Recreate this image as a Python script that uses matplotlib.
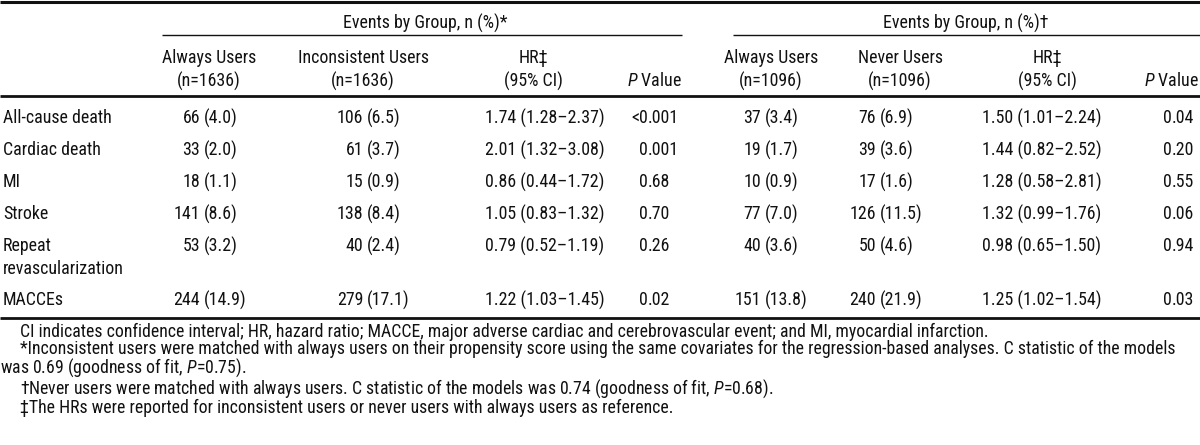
import matplotlib
matplotlib.use("Agg")
import matplotlib.pyplot as plt
from matplotlib import font_manager

# table rows
outcomes = ["All-cause death", "Cardiac death", "MI", "Stroke",
            "Repeat\nrevascularization", "MACCEs"]

# always users vs inconsistent users
always1_n = [66, 33, 18, 141, 53, 244]
always1_pct = [4.0, 2.0, 1.1, 8.6, 3.2, 14.9]
incons_n = [106, 61, 15, 138, 40, 279]
incons_pct = [6.5, 3.7, 0.9, 8.4, 2.4, 17.1]
hr1 = [1.74, 2.01, 0.86, 1.05, 0.79, 1.22]
hr1_lo = [1.28, 1.32, 0.44, 0.83, 0.52, 1.03]
hr1_hi = [2.37, 3.08, 1.72, 1.32, 1.19, 1.45]
p1 = ["<0.001", "0.001", "0.68", "0.70", "0.26", "0.02"]

# always users vs never users
always2_n = [37, 19, 10, 77, 40, 151]
always2_pct = [3.4, 1.7, 0.9, 7.0, 3.6, 13.8]
never_n = [76, 39, 17, 126, 50, 240]
never_pct = [6.9, 3.6, 1.6, 11.5, 4.6, 21.9]
hr2 = [1.50, 1.44, 1.28, 1.32, 0.98, 1.25]
hr2_lo = [1.01, 0.82, 0.58, 0.99, 0.65, 1.02]
hr2_hi = [2.24, 2.52, 2.81, 1.76, 1.50, 1.54]
p2 = ["0.04", "0.20", "0.55", "0.06", "0.94", "0.03"]

spanners = ["Events by Group, n (%)*", "Events by Group, n (%)\u2020"]
col_heads = [("Always Users", "(n=1636)"), ("Inconsistent Users", "(n=1636)"),
             ("HR\u2021", "(95% CI)"), ("", "$P$ Value"),
             ("Always Users", "(n=1096)"), ("Never Users", "(n=1096)"),
             ("HR\u2021", "(95% CI)"), ("", "$P$ Value")]

footnotes = [
    "CI indicates confidence interval; HR, hazard ratio; MACCE, major adverse cardiac and "
    "cerebrovascular event; and MI, myocardial infarction.",
    "*Inconsistent users were matched with always users on their propensity score using the same "
    "covariates for the regression-based analyses. C statistic of the models",
    "was 0.69 (goodness of fit, $P$=0.75).",
    "\u2020Never users were matched with always users. C statistic of the models was 0.74 "
    "(goodness of fit, $P$=0.68).",
    "\u2021The HRs were reported for inconsistent users or never users with always users as reference.",
]

# condensed grotesque, like the journal face
names = {f.name for f in font_manager.fontManager.ttflist}
family = "Liberation Sans"
for cand in ["Roboto Condensed", "Archivo Narrow", "Liberation Sans Narrow",
             "PT Sans Narrow", "Fira Sans Condensed", "IBM Plex Sans Condensed"]:
    if cand in names:
        family = cand
        break
plt.rcParams["font.family"] = [family, "DejaVu Sans"]
plt.rcParams["mathtext.fontset"] = "custom"
plt.rcParams["mathtext.rm"] = family
plt.rcParams["mathtext.it"] = family + ":italic"

ink = "#111111"
W, H = 1200, 445
fig = plt.figure(figsize=(W / 100, H / 100), dpi=100)
ax = fig.add_axes([0, 0, 1, 1])
ax.set_xlim(0, W)
ax.set_ylim(H, 0)
ax.axis("off")
renderer = fig.canvas.get_renderer()


def fit_size(s, target_px, start=12):
    t = ax.text(0, 0, s, fontsize=start)
    w = t.get_window_extent(renderer).width
    t.remove()
    return start * target_px / w


fs = fit_size("Inconsistent Users", 131)
fs_note = fit_size(footnotes[1], 1150)
px = fs * 100 / 72


def put(x, y, s, ha="left", note=False):
    size = fs_note if note else fs
    off = 0.36 * size * 100 / 72
    ax.text(x, y + off, s, ha=ha, va="baseline", fontsize=size, color=ink)


# rules
ax.plot([0, W], [1.5, 1.5], color=ink, lw=2.2, solid_capstyle="butt")
ax.plot([162, 682], [35, 35], color=ink, lw=1.0, solid_capstyle="butt")
ax.plot([733, W], [35, 35], color=ink, lw=1.0, solid_capstyle="butt")
ax.plot([0, W], [95.5, 95.5], color=ink, lw=2.0, solid_capstyle="butt")
ax.plot([0, W], [317.5, 317.5], color=ink, lw=2.0, solid_capstyle="butt")

# header
put(425, 22, spanners[0], ha="center")
put(966, 22, spanners[1], ha="center")
head_x = [209, 363, 533, 682, 771, 900, 1047, 1199]
for x, (l1, l2) in zip(head_x, col_heads):
    if l1:
        put(x, 57, l1, ha="center")
        put(x, 80, l2, ha="center")
    else:
        put(x, 80, l2, ha="right")

# body
pitch, line_gap = 32, 22
row_y = []
y = 117
for lab in outcomes:
    row_y.append(y)
    y += pitch + line_gap * lab.count("\n")

gap = 0.22 * px


def count_cell(paren_x, y, n, pct):
    put(paren_x - gap, y, str(n), ha="right")
    put(paren_x, y, f"({pct:.1f})")


def p_cell(dot_x, y, s):
    a, b = s.split(".")
    put(dot_x, y, a, ha="right")
    put(dot_x, y, "." + b)


for i, y in enumerate(row_y):
    for k, line in enumerate(outcomes[i].split("\n")):
        put(3, y + k * 23, line)
    count_cell(204, y, always1_n[i], always1_pct[i])
    count_cell(367, y, incons_n[i], incons_pct[i])
    put(485, y, f"{hr1[i]:.2f} ({hr1_lo[i]:.2f}\u2013{hr1_hi[i]:.2f})")
    p_cell(648, y, p1[i])
    count_cell(765, y, always2_n[i], always2_pct[i])
    count_cell(880, y, never_n[i], never_pct[i])
    put(982, y, f"{hr2[i]:.2f} ({hr2_lo[i]:.2f}\u2013{hr2_hi[i]:.2f})")
    p_cell(1172, y, p2[i])

# footnotes
note_x = [20, 20, 0, 20, 20]
note_y = [331, 348, 366, 387, 407]
for x, y, s in zip(note_x, note_y, footnotes):
    put(x, y, s, note=True)

fig.savefig("out.png", dpi=100)
